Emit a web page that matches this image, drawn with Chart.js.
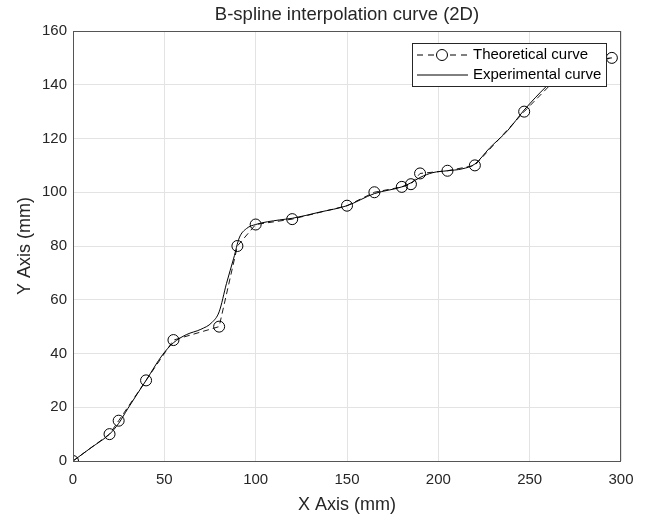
<!DOCTYPE html>
<html lang="en">
<head>
    <meta charset="UTF-8">
    <title>B-spline interpolation curve (2D)</title>
    <script src="https://cdn.jsdelivr.net/npm/chart.js"></script>
    <style>
        html, body { margin: 0; padding: 0; background: #fff; }
        #wrap { position: relative; width: 649px; height: 514px; }
    </style>
</head>
<body>
<div id="wrap"><canvas id="bspline" width="649" height="514"></canvas></div>
<script>
// theoretical control points (circles, dashed)
const theoX = [0, 20, 25, 40, 55, 80, 90, 100, 120, 150, 165, 180, 185, 190, 205, 220, 247, 270, 295];
const theoY = [0, 10, 15, 30, 45, 50, 80, 88, 90, 95, 100, 102, 103, 107, 108, 110, 130, 146, 150];

// experimental curve (solid, no markers)
const expX = [0, 10, 20, 25, 30, 40, 49, 55, 62, 70, 76, 80, 84, 88, 91, 95, 100, 113, 120, 135, 150, 165, 180, 185, 190, 197, 205, 213, 220, 228, 238, 247, 259, 270, 283, 295];
const expY = [0, 5, 10, 14, 19.5, 30, 39.5, 44, 47, 49, 51.5, 55.5, 66, 75.5, 83, 86.5, 88, 89.7, 90.3, 92.6, 95, 99.5, 102, 103.5, 105.5, 107.3, 108, 108.7, 110.5, 116.4, 123, 130.6, 139.3, 146, 149, 150];

const xTicks = [0, 50, 100, 150, 200, 250, 300];
const yTicks = [0, 20, 40, 60, 80, 100, 120, 140, 160];
const seriesNames = ['Theoretical curve', 'Experimental curve'];

const FONT = '"Liberation Sans", Arial, Helvetica, sans-serif';
const TEXT = '#262626';

const toPts = (xs, ys) => xs.map((x, i) => ({x: x, y: ys[i]}));

// MATLAB style box around the axes + legend inside the plot
const boxPlugin = {
    id: 'matlabBox',
    afterDatasetsDraw(chart) {
        const {ctx, chartArea: a} = chart;
        ctx.save();
        ctx.strokeStyle = '#555';
        ctx.lineWidth = 1;
        ctx.strokeRect(a.left + 0.5, a.top + 0.5, a.right - a.left - 1, a.bottom - a.top);
        ctx.restore();
    },
    afterDraw(chart) {
        const {ctx} = chart;
        const bx = 412, by = 43, bw = 194, bh = 43;
        ctx.save();
        ctx.fillStyle = '#fff';
        ctx.fillRect(bx, by, bw, bh);
        ctx.strokeStyle = '#262626';
        ctx.lineWidth = 1;
        ctx.strokeRect(bx + 0.5, by + 0.5, bw, bh);

        const rows = [55, 75];
        ctx.strokeStyle = '#000';
        ctx.lineWidth = 1;
        // theoretical sample
        ctx.setLineDash([6, 5]);
        ctx.beginPath();
        ctx.moveTo(417, rows[0]);
        ctx.lineTo(468, rows[0]);
        ctx.stroke();
        ctx.setLineDash([]);
        ctx.beginPath();
        ctx.arc(442, rows[0], 5.5, 0, Math.PI * 2);
        ctx.fillStyle = '#fff';
        ctx.fill();
        ctx.stroke();
        // experimental sample
        ctx.beginPath();
        ctx.moveTo(417, rows[1]);
        ctx.lineTo(468, rows[1]);
        ctx.stroke();

        ctx.fillStyle = '#000';
        ctx.font = '15px ' + FONT;
        ctx.textBaseline = 'middle';
        ctx.fillText(seriesNames[0], 473, rows[0]);
        ctx.fillText(seriesNames[1], 473, rows[1]);
        ctx.restore();
    }
};

new Chart(document.getElementById('bspline'), {
    type: 'scatter',
    data: {
        datasets: [{
            label: seriesNames[0],
            data: toPts(theoX, theoY),
            showLine: true,
            borderColor: '#000',
            borderWidth: 0.9,
            borderDash: [6, 4],
            pointStyle: 'circle',
            pointRadius: 5.5,
            pointBorderWidth: 1,
            pointBorderColor: '#000',
            pointBackgroundColor: 'rgba(0,0,0,0)',
            tension: 0
        }, {
            label: seriesNames[1],
            data: toPts(expX, expY),
            showLine: true,
            borderColor: '#000',
            borderWidth: 1,
            pointRadius: 0,
            cubicInterpolationMode: 'monotone'
        }]
    },
    options: {
        responsive: false,
        animation: false,
        layout: {padding: {left: 0, right: 28, top: 0, bottom: 0}},
        plugins: {
            legend: {display: false},
            tooltip: {enabled: false},
            title: {
                display: true,
                fullSize: false,   // centre over the plot, like MATLAB
                text: 'B-spline interpolation curve (2D)',
                color: TEXT,
                font: {family: FONT, size: 18.5, weight: 'normal', lineHeight: 1.2},
                padding: {top: 4, bottom: 4.8}
            }
        },
        scales: {
            x: {
                type: 'linear',
                min: 0, max: 300,
                afterBuildTicks: s => { s.ticks = xTicks.map(v => ({value: v})); },
                afterFit: s => { s.height = 53; },
                ticks: {color: TEXT, font: {family: FONT, size: 15}, padding: 10, maxRotation: 0},
                grid: {color: '#e3e3e3', lineWidth: 1, drawTicks: false},
                border: {display: false},
                title: {display: true, text: 'X Axis (mm)', color: TEXT, font: {family: FONT, size: 18, lineHeight: 1}, padding: {top: 0, bottom: 0}}
            },
            y: {
                type: 'linear',
                min: 0, max: 160,
                afterBuildTicks: s => { s.ticks = yTicks.map(v => ({value: v})); },
                afterFit: s => { s.width = 73; },
                ticks: {color: TEXT, font: {family: FONT, size: 15}, padding: 6},
                grid: {color: '#e3e3e3', lineWidth: 1, drawTicks: false},
                border: {display: false},
                title: {display: true, text: 'Y Axis (mm)', color: TEXT, font: {family: FONT, size: 18, lineHeight: 1.2}, padding: {top: 14, bottom: 0}}
            }
        }
    },
    plugins: [boxPlugin]
});
</script>
</body>
</html>
